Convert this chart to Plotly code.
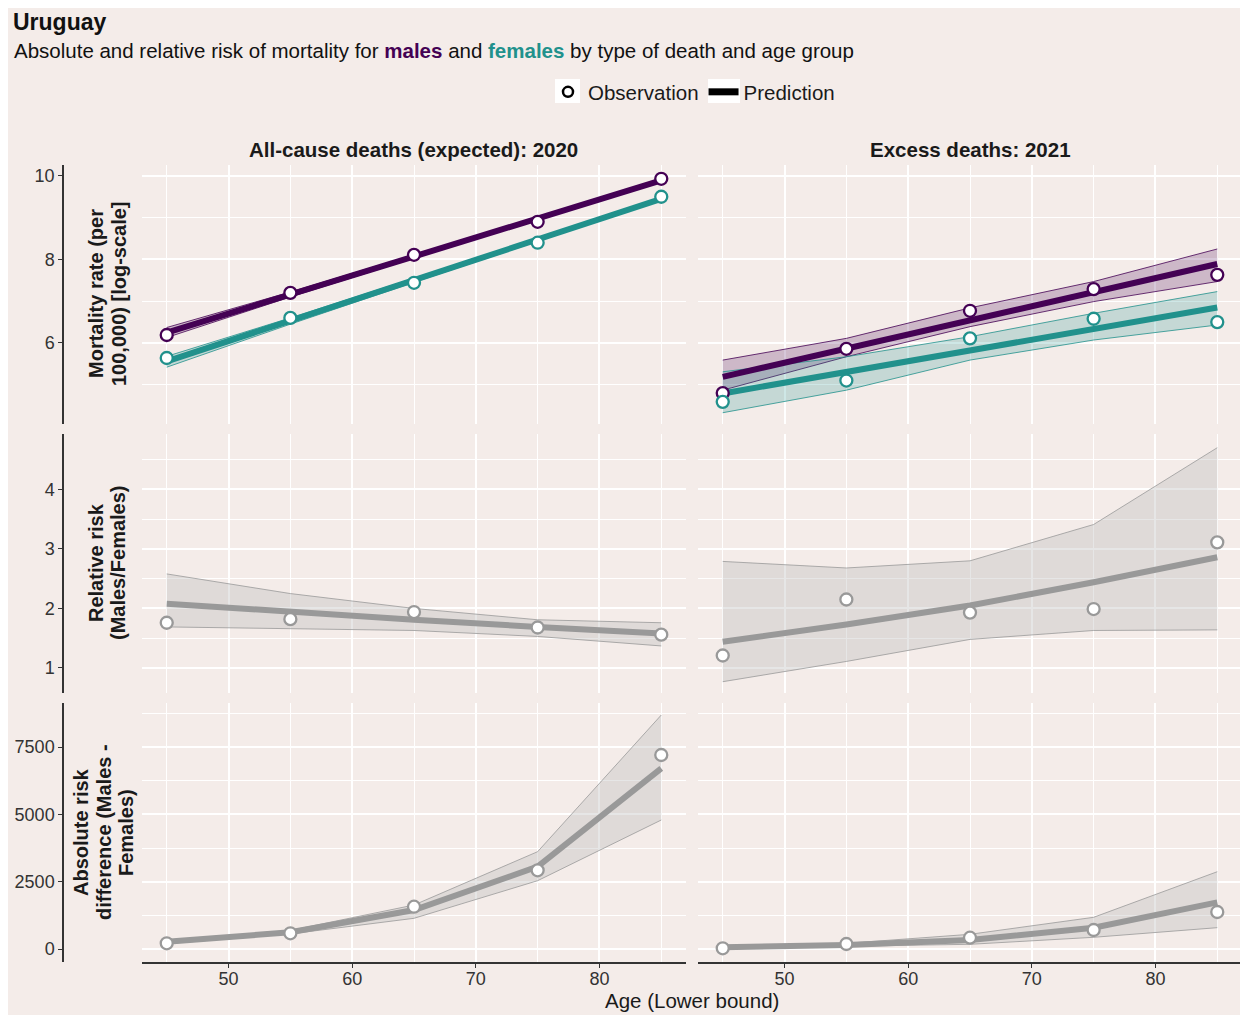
import plotly.graph_objects as go

# ---------------- data ----------------
ages = [45, 55, 65, 75, 85]

# Row 1: mortality rate (log-scale values)
ac_male_obs = [6.19, 7.20, 8.11, 8.90, 9.93]
ac_male_pred = [6.25, 7.16, 8.07, 8.98, 9.89]
ac_male_lo = [6.13, 7.10, 8.03, 8.95, 9.86]
ac_male_hi = [6.37, 7.22, 8.11, 9.01, 9.92]
ac_fem_obs = [5.64, 6.60, 7.44, 8.40, 9.50]
ac_fem_pred = [5.56, 6.53, 7.50, 8.47, 9.45]
ac_fem_lo = [5.42, 6.45, 7.45, 8.44, 9.42]
ac_fem_hi = [5.68, 6.60, 7.55, 8.51, 9.48]

ex_male_obs = [4.80, 5.86, 6.77, 7.29, 7.63]
ex_male_pred = [5.19, 5.87, 6.54, 7.22, 7.89]
ex_male_lo = [4.87, 5.67, 6.39, 6.99, 7.47]
ex_male_hi = [5.59, 6.11, 6.84, 7.47, 8.25]
ex_fem_obs = [4.59, 5.10, 6.11, 6.58, 6.50]
ex_fem_pred = [4.79, 5.30, 5.82, 6.33, 6.85]
ex_fem_lo = [4.33, 4.87, 5.59, 6.07, 6.43]
ex_fem_hi = [5.31, 5.67, 6.15, 6.71, 7.23]

# Row 2: relative risk (males/females)
ac_rr_obs = [1.76, 1.82, 1.94, 1.68, 1.56]
ac_rr_pred = [2.08, 1.94, 1.81, 1.69, 1.58]
ac_rr_lo = [1.69, 1.66, 1.63, 1.53, 1.37]
ac_rr_hi = [2.58, 2.25, 2.00, 1.81, 1.76]
ex_rr_obs = [1.21, 2.15, 1.93, 1.99, 3.11]
ex_rr_pred = [1.44, 1.73, 2.05, 2.44, 2.86]
ex_rr_lo = [0.77, 1.11, 1.48, 1.63, 1.64]
ex_rr_hi = [2.79, 2.68, 2.80, 3.41, 4.70]

# Row 3: absolute risk difference
ac_ard_obs = [212, 583, 1571, 2923, 7207]
ac_ard_pred = [271, 620, 1449, 3057, 6712]
ac_ard_lo = [200, 560, 1140, 2537, 4792]
ac_ard_hi = [310, 690, 1634, 3615, 8692]
ex_ard_obs = [26, 186, 420, 706, 1374]
ex_ard_pred = [63, 149, 334, 792, 1734]
ex_ard_lo = [30, 100, 174, 434, 792]
ex_ard_hi = [95, 210, 546, 1177, 2871]

panel_titles = ["All-cause deaths (expected): 2020", "Excess deaths: 2021"]
row_titles = [["Mortality rate (per", "100,000) [log-scale]"],
              ["Relative risk", "(Males/Females)"],
              ["Absolute risk", "difference (Males -", "Females)"]]
x_ticks = [50, 60, 70, 80]
top_ticks = [6, 8, 10]
mid_ticks = [1, 2, 3, 4]
bot_ticks = [0, 2500, 5000, 7500]

# ---------------- style ----------------
OFF = 8            # page margin of the browser
W, H = 1240, 1007
BG = "#F4ECE9"
MALE = "#440154"
FEM = "#21918C"
GREY = "#999999"
FONT = "Liberation Sans, Arial, sans-serif"
TXT = "#1a1a1a"


def px(x):
    return (x - OFF) / W


def py(y):
    return 1 - (y - OFF) / H


fig = go.Figure()


def ribbon(xa, ya, lo, hi, color, fill):
    fig.add_trace(go.Scatter(x=ages, y=lo, mode="lines", line=dict(color=color, width=0.8),
                             xaxis=xa, yaxis=ya, showlegend=False, hoverinfo="skip"))
    fig.add_trace(go.Scatter(x=ages, y=hi, mode="lines", line=dict(color=color, width=0.8),
                             fill="tonexty", fillcolor=fill,
                             xaxis=xa, yaxis=ya, showlegend=False, hoverinfo="skip"))


def pred(xa, ya, vals, color):
    fig.add_trace(go.Scatter(x=ages, y=vals, mode="lines", line=dict(color=color, width=6),
                             xaxis=xa, yaxis=ya, showlegend=False))


def obs(xa, ya, vals, color):
    fig.add_trace(go.Scatter(x=ages, y=vals, mode="markers",
                             marker=dict(symbol="circle", size=12, color="white",
                                         line=dict(color=color, width=2.3)),
                             xaxis=xa, yaxis=ya, showlegend=False))


MFILL = "rgba(68,1,84,0.22)"
FFILL = "rgba(33,145,140,0.22)"
GFILL = "rgba(190,190,190,0.38)"

# row 1 left
ribbon("x", "y", ac_male_lo, ac_male_hi, MALE, MFILL)
ribbon("x", "y", ac_fem_lo, ac_fem_hi, FEM, FFILL)
pred("x", "y", ac_male_pred, MALE)
pred("x", "y", ac_fem_pred, FEM)
obs("x", "y", ac_male_obs, MALE)
obs("x", "y", ac_fem_obs, FEM)
# row 1 right
ribbon("x2", "y2", ex_male_lo, ex_male_hi, MALE, MFILL)
ribbon("x2", "y2", ex_fem_lo, ex_fem_hi, FEM, FFILL)
pred("x2", "y2", ex_male_pred, MALE)
pred("x2", "y2", ex_fem_pred, FEM)
obs("x2", "y2", ex_male_obs, MALE)
obs("x2", "y2", ex_fem_obs, FEM)
# row 2
ribbon("x3", "y3", ac_rr_lo, ac_rr_hi, GREY, GFILL)
pred("x3", "y3", ac_rr_pred, GREY)
obs("x3", "y3", ac_rr_obs, GREY)
ribbon("x4", "y4", ex_rr_lo, ex_rr_hi, GREY, GFILL)
pred("x4", "y4", ex_rr_pred, GREY)
obs("x4", "y4", ex_rr_obs, GREY)
# row 3
ribbon("x5", "y5", ac_ard_lo, ac_ard_hi, GREY, GFILL)
pred("x5", "y5", ac_ard_pred, GREY)
obs("x5", "y5", ac_ard_obs, GREY)
ribbon("x6", "y6", ex_ard_lo, ex_ard_hi, GREY, GFILL)
pred("x6", "y6", ex_ard_pred, GREY)
obs("x6", "y6", ex_ard_obs, GREY)

# legend dummies
fig.add_trace(go.Scatter(x=[None], y=[None], mode="markers", name="Observation",
                         legendrank=1,
                         marker=dict(symbol="circle", size=10, color="white",
                                     line=dict(color="black", width=2.5))))
fig.add_trace(go.Scatter(x=[None], y=[None], mode="lines", name="Prediction",
                         legendrank=2,
                         line=dict(color="black", width=7)))

# ---------------- axes ----------------
xdom = [[px(142), px(686)], [px(698), px(1242)]]
ydom = [[py(424), py(165)], [py(693), py(434)], [py(962), py(703)]]
yranges = [[4.06, 10.26], [0.58, 4.93], [-483, 9138]]
yticks = [top_ticks, mid_ticks, bot_ticks]
ymin = [1, 0.5, 1250]

layout = {}
idx = 0
for r in range(3):
    for c in range(2):
        idx += 1
        xn = "xaxis" if idx == 1 else f"xaxis{idx}"
        yn = "yaxis" if idx == 1 else f"yaxis{idx}"
        yref = "y" if idx == 1 else f"y{idx}"
        xref = "x" if idx == 1 else f"x{idx}"
        bottom = r == 2
        layout[xn] = dict(domain=xdom[c], range=[43, 87], anchor=yref,
                          tickvals=x_ticks, showticklabels=bottom,
                          ticks="outside" if bottom else "", ticklen=4, tickwidth=1.2,
                          tickcolor="#333333", ticklabelstandoff=-4,
                          showline=bottom, linecolor="#333333", linewidth=1.5,
                          showgrid=True, gridcolor="white", gridwidth=1.6,
                          minor=dict(dtick=5, tick0=45, showgrid=True, gridcolor="white",
                                     gridwidth=0.7),
                          zeroline=False,
                          tickfont=dict(size=18, color="#333333", family=FONT))
        ycfg = dict(domain=ydom[r], range=yranges[r], tickvals=yticks[r],
                    showgrid=True, gridcolor="white", gridwidth=1.6,
                    minor=dict(dtick=ymin[r], tick0=0, showgrid=True, gridcolor="white",
                               gridwidth=0.7),
                    zeroline=False,
                    tickfont=dict(size=18, color="#333333", family=FONT))
        if c == 0:
            ycfg.update(anchor="free", position=px(63), showline=True,
                        linecolor="#333333", linewidth=1.5, ticks="outside",
                        ticklen=4, tickwidth=1.2, tickcolor="#333333",
                        showticklabels=True)
        else:
            ycfg.update(anchor=xref, showline=False, ticks="", showticklabels=False)
        layout[yn] = ycfg

annotations = [
    dict(text="<b>Uruguay</b>", x=px(12), y=py(8), xref="paper", yref="paper",
         xanchor="left", yanchor="top", showarrow=False, borderpad=0,
         font=dict(size=23, color="#111111", family=FONT)),
    dict(text="Absolute and relative risk of mortality for "
              f"<b><span style='color:{MALE}'>males</span></b> and "
              f"<b><span style='color:{FEM}'>females</span></b> by type of death and age group",
         x=px(12), y=py(50), xref="paper", yref="paper",
         xanchor="left", yanchor="middle", showarrow=False,
         font=dict(size=20.5, color="#111111", family=FONT)),
    dict(text="Age (Lower bound)", x=px(692), y=py(1000), xref="paper", yref="paper",
         xanchor="center", yanchor="middle", showarrow=False,
         font=dict(size=20.5, color=TXT, family=FONT)),
]
for c, t in enumerate(panel_titles):
    annotations.append(dict(text=f"<b>{t}</b>", x=(xdom[c][0] + xdom[c][1]) / 2, y=py(150),
                            xref="paper", yref="paper", xanchor="center", yanchor="middle",
                            showarrow=False, font=dict(size=20.5, color=TXT, family=FONT)))
row_centers = [294, 563, 832]
line_x = [[96, 119], [96, 118], [81, 104, 126]]
for r, lines in enumerate(row_titles):
    for k, t in enumerate(lines):
        annotations.append(dict(text=f"<b>{t}</b>", x=px(line_x[r][k]), y=py(row_centers[r]),
                                xref="paper", yref="paper", xanchor="center", yanchor="middle",
                                textangle=-90, showarrow=False,
                                font=dict(size=20, color=TXT, family=FONT)))

shapes = [
    dict(type="rect", xref="paper", yref="paper", x0=px(555), x1=px(580), y0=py(103), y1=py(79),
         fillcolor="white", line=dict(width=0), layer="below"),
    dict(type="rect", xref="paper", yref="paper", x0=px(708), x1=px(740), y0=py(103), y1=py(79),
         fillcolor="white", line=dict(width=0), layer="below"),
]

fig.update_layout(
    width=W, height=H, margin=dict(l=0, r=0, t=0, b=0),
    paper_bgcolor=BG, plot_bgcolor=BG,
    font=dict(family=FONT, color=TXT),
    showlegend=True,
    legend=dict(orientation="h", x=px(548), xanchor="left", y=py(92), yanchor="middle",
                font=dict(size=20.5, color=TXT, family=FONT), bgcolor="rgba(0,0,0,0)",
                itemwidth=30, traceorder="normal"),
    annotations=annotations, shapes=shapes,
    **layout,
)

fig.write_html("out.html")
